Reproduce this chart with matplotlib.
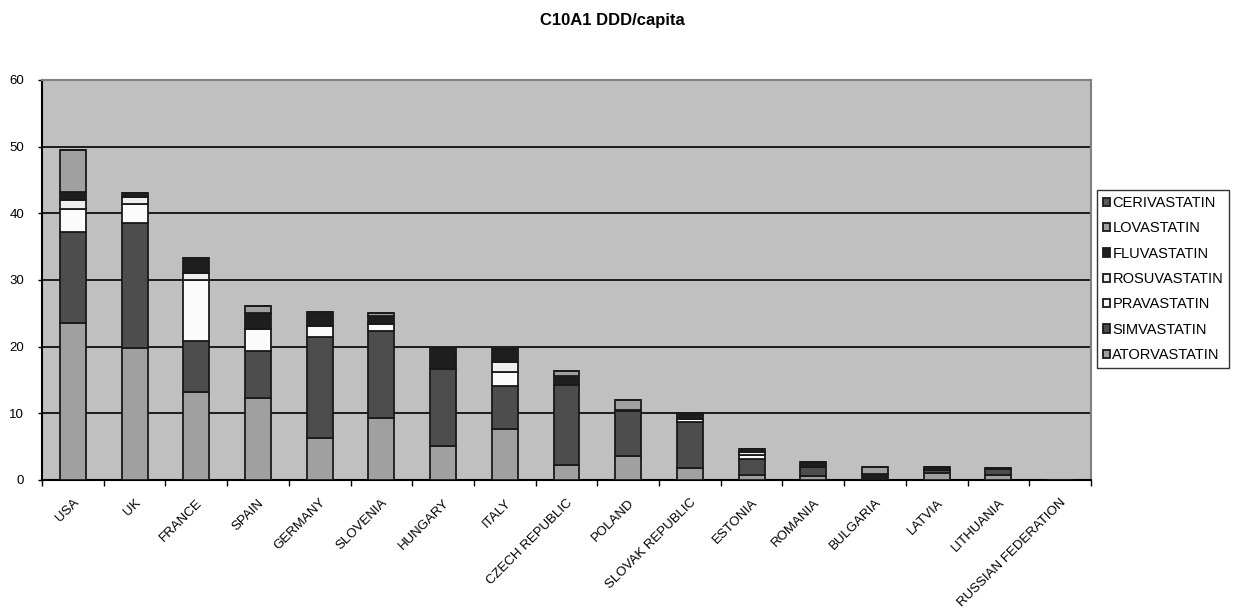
import matplotlib
matplotlib.use("Agg")
import matplotlib.pyplot as plt
import numpy as np

plt.rcParams['font.family'] = ['Liberation Sans', 'DejaVu Sans']

countries = ["USA", "UK", "FRANCE", "SPAIN", "GERMANY", "SLOVENIA", "HUNGARY",
             "ITALY", "CZECH REPUBLIC", "POLAND", "SLOVAK REPUBLIC", "ESTONIA",
             "ROMANIA", "BULGARIA", "LATVIA", "LITHUANIA", "RUSSIAN FEDERATION"]

# DDD/capita per statin, stacked bottom to top
atorvastatin = [23.5, 19.75, 13.2, 12.35, 6.25, 9.35, 5.15, 7.6, 2.3, 3.65, 1.85,
                0.75, 0.6, 0.05, 1.1, 0.7, 0.0]
simvastatin = [13.65, 18.75, 7.65, 7.0, 15.25, 13.05, 11.45, 6.55, 11.95, 6.7, 6.85,
               2.4, 1.4, 0.0, 0.45, 0.9, 0.0]
pravastatin = [3.55, 2.9, 9.15, 3.25, 1.65, 1.0, 0.0, 2.1, 0.0, 0.0, 0.4,
               0.6, 0.0, 0.0, 0.0, 0.0, 0.0]
rosuvastatin = [1.3, 1.0, 1.1, 0.0, 0.0, 0.0, 0.0, 1.5, 0.0, 0.0, 0.0,
                0.5, 0.0, 0.0, 0.0, 0.0, 0.0]
fluvastatin = [1.15, 0.6, 2.25, 2.45, 2.1, 1.25, 3.15, 1.85, 1.4, 0.2, 0.8,
               0.35, 0.65, 0.9, 0.35, 0.15, 0.0]
lovastatin = [6.35, 0.0, 0.0, 1.1, 0.0, 0.45, 0.0, 0.0, 0.7, 1.4, 0.2,
              0.0, 0.0, 1.0, 0.0, 0.0, 0.0]
cerivastatin = [0.0] * 17

series = [
    ("ATORVASTATIN", atorvastatin, "#a0a0a0"),
    ("SIMVASTATIN", simvastatin, "#4d4d4d"),
    ("PRAVASTATIN", pravastatin, "#fbfbfb"),
    ("ROSUVASTATIN", rosuvastatin, "#eeeeee"),
    ("FLUVASTATIN", fluvastatin, "#1e1e1e"),
    ("LOVASTATIN", lovastatin, "#a0a0a0"),
    ("CERIVASTATIN", cerivastatin, "#5a5a5a"),
]

fig = plt.figure(figsize=(12.33, 6.16), dpi=100)
ax = fig.add_axes([42 / 1233, 1 - 480 / 616, (1091 - 42) / 1233, 400 / 616])
ax.set_facecolor("#c0c0c0")

x = np.arange(len(countries))
bottom = np.zeros(len(countries))
for name, vals, col in series:
    v = np.array(vals)
    ax.bar(x, v, width=0.42, bottom=bottom, color=col, edgecolor="#1a1a1a",
           linewidth=1.3, label=name, zorder=3)
    bottom += v

ax.set_ylim(0, 60)
ax.set_xlim(-0.5, len(countries) - 0.5)
ax.set_yticks(range(0, 61, 10))
ax.yaxis.grid(True, color="black", linewidth=1.2, zorder=1)
ax.set_axisbelow(True)

ax.set_xticks(x)
ax.set_xticklabels(countries, rotation=45, ha="right", rotation_mode="anchor",
                   fontsize=9.5)
ax.tick_params(axis="x", length=0, pad=12)
ax.set_xticks(np.arange(-0.5, len(countries)), minor=True)
ax.tick_params(axis="x", which="minor", length=4, width=1, color="black",
               direction="out")
ax.tick_params(axis="y", labelsize=9.5, length=3, width=1, direction="out", pad=10)

for side in ("top", "right"):
    ax.spines[side].set_color("#808080")
    ax.spines[side].set_linewidth(1.5)
ax.spines["left"].set_linewidth(1.5)
ax.spines["bottom"].set_linewidth(1.5)

handles, labels = ax.get_legend_handles_labels()
leg = fig.legend(handles[::-1], labels[::-1], loc="upper left",
                 bbox_to_anchor=(1097 / 1233, 1 - 190 / 616), fontsize=10.5,
                 frameon=True, fancybox=False, edgecolor="black",
                 handlelength=0.5, handleheight=0.5, handletextpad=0.15,
                 labelspacing=0.78, borderpad=0.4, borderaxespad=0)
leg.get_frame().set_linewidth(1.0)

fig.text(0.497, 1 - 20 / 616, "C10A1 DDD/capita", ha="center", va="center",
         fontsize=12, fontweight="bold")

fig.savefig("out.png", dpi=100)
